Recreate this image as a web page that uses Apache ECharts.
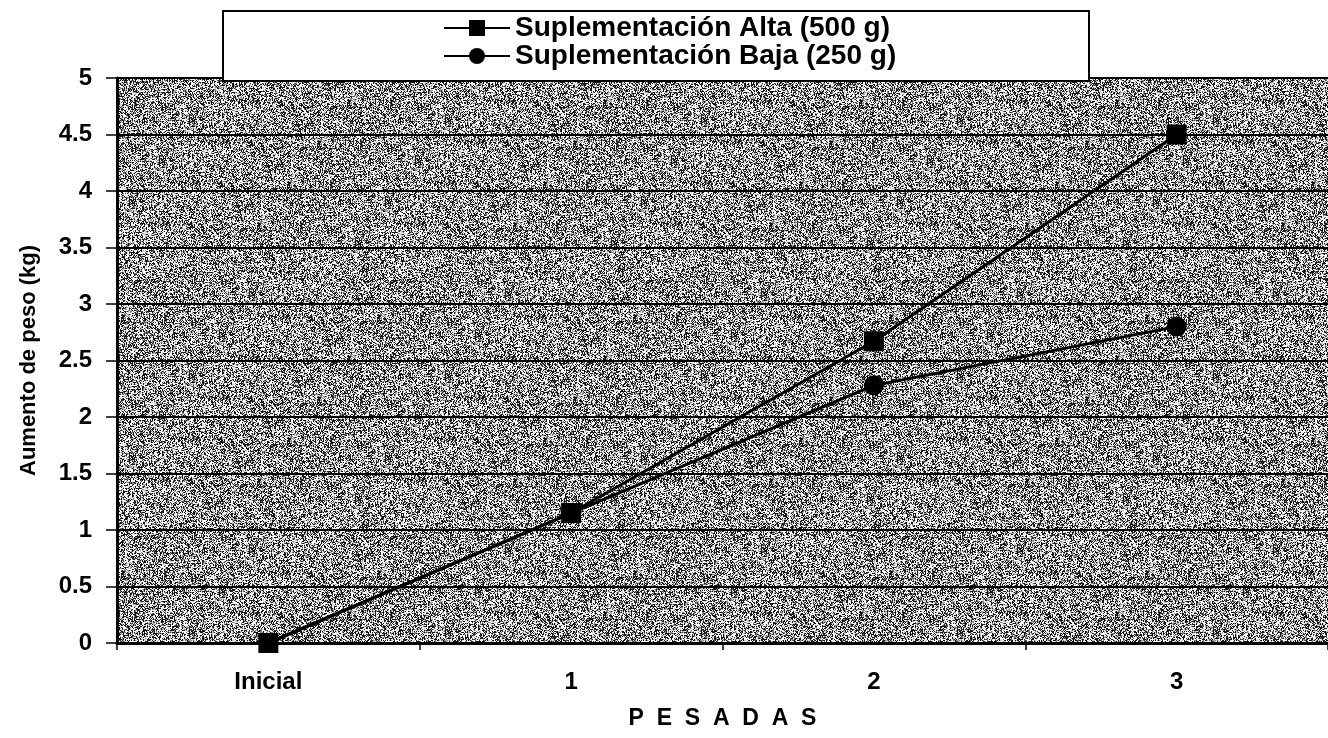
<!DOCTYPE html>
<html>
<head>
<meta charset="utf-8">
<script src="https://cdn.jsdelivr.net/npm/echarts@6/dist/echarts.min.js"></script>
<style>
  html, body { margin: 0; padding: 0; background: #fff; }
  #chart { width: 1328px; height: 738px; }
</style>
</head>
<body>
<div id="chart"></div>
<script>
// Weighing sessions and weight gain (kg) per supplementation level
const categories = ['Inicial', '1', '2', '3'];
const altaValues = [0, 1.15, 2.67, 4.5];
const bajaValues = [0, 1.15, 2.28, 2.8];
const seriesNames = ['Suplementación Alta (500 g)', 'Suplementación Baja (250 g)'];

// Speckled grey texture for the plotting area (seeded, so it is the same every load)
function speckleTexture(size) {
  const c = document.createElement('canvas');
  c.width = size; c.height = size;
  const ctx = c.getContext('2d');
  const img = ctx.createImageData(size, size);
  let s = 12345;
  const rnd = () => { s = (s * 1103515245 + 12345) & 0x7fffffff; return s / 0x7fffffff; };
  for (let i = 0; i < size * size; i++) {
    const r = rnd();
    let v;
    if (r < 0.36) v = 25;
    else if (r < 0.50) v = 130;
    else if (r < 0.62) v = 205;
    else v = 252;
    img.data[i * 4] = v; img.data[i * 4 + 1] = v; img.data[i * 4 + 2] = v; img.data[i * 4 + 3] = 255;
  }
  ctx.putImageData(img, 0, 0);
  return c;
}

const chart = echarts.init(document.getElementById('chart'), null, { renderer: 'canvas' });
const font = '"Liberation Sans", Arial, sans-serif';

// one legend row per series so the two rows sit tightly stacked
function legendRow(name, top) {
  return {
    z: 10,
    left: 443, top: top,
    padding: 0,
    itemWidth: 66, itemHeight: 20, itemGap: 0,
    textStyle: { fontFamily: font, fontSize: 28, fontWeight: 'bold', color: '#000' },
    data: [name]
  };
}

chart.setOption({
  animation: false,
  backgroundColor: '#fff',
  grid: {
    left: 117, top: 78, right: -6, bottom: 95,
    show: true,
    backgroundColor: { image: speckleTexture(256), repeat: 'repeat' },
    borderWidth: 0
  },
  graphic: [{
    type: 'rect',
    z: 5,
    shape: { x: 223, y: 11, width: 866, height: 70 },
    style: { fill: '#fff', stroke: '#000', lineWidth: 2 }
  }],
  legend: [legendRow(seriesNames[0], 14), legendRow(seriesNames[1], 42)],
  xAxis: {
    type: 'category',
    data: categories,
    boundaryGap: true,
    axisLine: { lineStyle: { color: '#000', width: 3 } },
    axisTick: { show: true, length: 7, lineStyle: { color: '#000', width: 1.5 } },
    axisLabel: { margin: 27, fontFamily: font, fontSize: 24, fontWeight: 'bold', color: '#000' },
    name: 'P  E  S  A  D  A  S',
    nameLocation: 'middle',
    nameGap: 64,
    nameTextStyle: { fontFamily: font, fontSize: 23, fontWeight: 'bold', color: '#000' }
  },
  yAxis: {
    type: 'value',
    min: 0, max: 5, interval: 0.5,
    axisLine: { show: true, lineStyle: { color: '#000', width: 3 } },
    axisTick: { show: true, length: 11, lineStyle: { color: '#000', width: 1.5 } },
    axisLabel: { margin: 25, fontFamily: font, fontSize: 24, fontWeight: 'bold', color: '#000' },
    splitLine: { show: true, lineStyle: { color: '#000', width: 2 } },
    name: 'Aumento de peso (kg)',
    nameLocation: 'middle',
    nameGap: 77,
    nameRotate: 90,
    nameTextStyle: { fontFamily: font, fontSize: 22, fontWeight: 'bold', color: '#000' }
  },
  series: [
    {
      name: seriesNames[0],
      type: 'line',
      data: altaValues,
      symbol: 'rect',
      symbolSize: 20,
      lineStyle: { color: '#000', width: 3 },
      itemStyle: { color: '#000' },
      z: 3
    },
    {
      name: seriesNames[1],
      type: 'line',
      data: bajaValues,
      symbol: 'circle',
      symbolSize: 20,
      lineStyle: { color: '#000', width: 3 },
      itemStyle: { color: '#000' },
      z: 2
    }
  ]
});
</script>
</body>
</html>
